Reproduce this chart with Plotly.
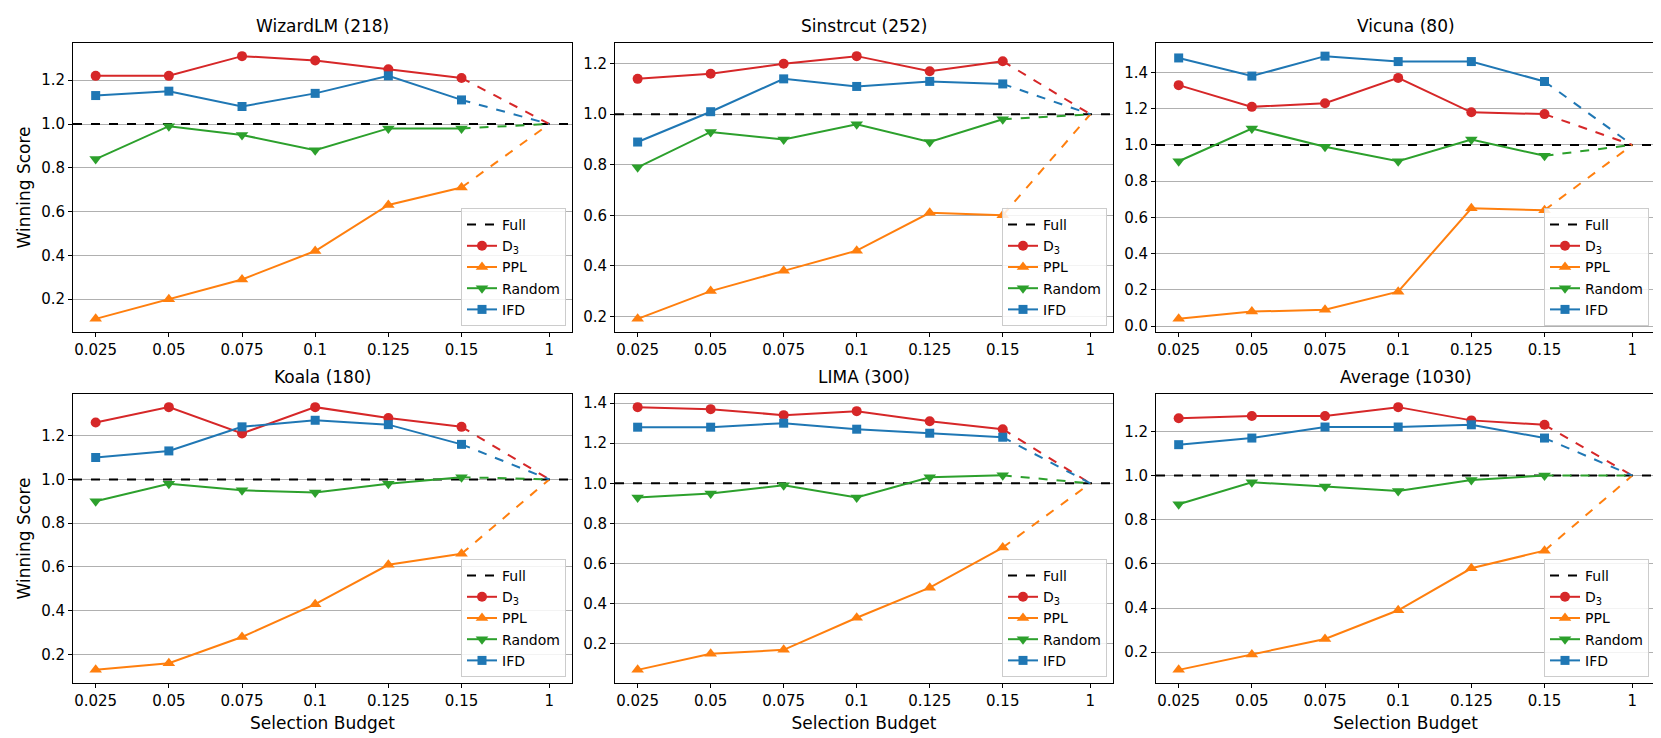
import plotly.graph_objects as go

# ---------------- data ----------------
budget_labels = ["0.025", "0.05", "0.075", "0.1", "0.125", "0.15", "1"]
full_score = 1.0

panel_titles = ["WizardLM (218)", "Sinstrcut (252)", "Vicuna (80)",
                "Koala (180)", "LIMA (300)", "Average (1030)"]

d3_wizardlm = [1.22, 1.22, 1.31, 1.29, 1.25, 1.21]
ppl_wizardlm = [0.11, 0.20, 0.29, 0.42, 0.63, 0.71]
random_wizardlm = [0.84, 0.99, 0.95, 0.88, 0.98, 0.98]
ifd_wizardlm = [1.13, 1.15, 1.08, 1.14, 1.22, 1.11]

d3_sinstruct = [1.14, 1.16, 1.20, 1.23, 1.17, 1.21]
ppl_sinstruct = [0.19, 0.30, 0.38, 0.46, 0.61, 0.60]
random_sinstruct = [0.79, 0.93, 0.90, 0.96, 0.89, 0.98]
ifd_sinstruct = [0.89, 1.01, 1.14, 1.11, 1.13, 1.12]

d3_vicuna = [1.33, 1.21, 1.23, 1.37, 1.18, 1.17]
ppl_vicuna = [0.04, 0.08, 0.09, 0.19, 0.65, 0.64]
random_vicuna = [0.91, 1.09, 0.99, 0.91, 1.03, 0.94]
ifd_vicuna = [1.48, 1.38, 1.49, 1.46, 1.46, 1.35]

d3_koala = [1.26, 1.33, 1.21, 1.33, 1.28, 1.24]
ppl_koala = [0.13, 0.16, 0.28, 0.43, 0.61, 0.66]
random_koala = [0.90, 0.98, 0.95, 0.94, 0.98, 1.01]
ifd_koala = [1.10, 1.13, 1.24, 1.27, 1.25, 1.16]

d3_lima = [1.38, 1.37, 1.34, 1.36, 1.31, 1.27]
ppl_lima = [0.07, 0.15, 0.17, 0.33, 0.48, 0.68]
random_lima = [0.93, 0.95, 0.99, 0.93, 1.03, 1.04]
ifd_lima = [1.28, 1.28, 1.30, 1.27, 1.25, 1.23]

d3_average = [1.26, 1.27, 1.27, 1.31, 1.25, 1.23]
ppl_average = [0.12, 0.19, 0.26, 0.39, 0.58, 0.66]
random_average = [0.87, 0.97, 0.95, 0.93, 0.98, 1.00]
ifd_average = [1.14, 1.17, 1.22, 1.22, 1.23, 1.17]

method_names = ["D<sub>3</sub>", "PPL", "Random", "IFD"]

panels = [
    [d3_wizardlm, ppl_wizardlm, random_wizardlm, ifd_wizardlm],
    [d3_sinstruct, ppl_sinstruct, random_sinstruct, ifd_sinstruct],
    [d3_vicuna, ppl_vicuna, random_vicuna, ifd_vicuna],
    [d3_koala, ppl_koala, random_koala, ifd_koala],
    [d3_lima, ppl_lima, random_lima, ifd_lima],
    [d3_average, ppl_average, random_average, ifd_average],
]

# ---------------- style ----------------
colors = ["#d62728", "#ff7f0e", "#2ca02c", "#1f77b4"]
symbols = ["circle", "triangle-up", "triangle-down", "square"]
msizes = [10, 11, 11, 9]
FONT = "DejaVu Sans"

W, H = 1661, 738
col_px = [(65, 564), (607, 1105), (1148, 1647)]
row_px = [(35, 324), (386, 675)]

# x positions: six equally spaced budgets, then the full set slightly further
xpos = list(range(len(budget_labels) - 1)) + [len(budget_labels) - 1 + 0.2]
xspan = xpos[-1] - xpos[0]
xrange_ = [xpos[0] - 0.05 * xspan, xpos[-1] + 0.05 * xspan]

fig = go.Figure()
annotations = []
layout_axes = {}

for i, series in enumerate(panels):
    r, c = divmod(i, 3)
    n = i + 1
    xa = "x" if n == 1 else f"x{n}"
    ya = "y" if n == 1 else f"y{n}"
    leg = "legend" if n == 1 else f"legend{n}"

    x0, x1 = col_px[c]
    yt, yb = row_px[r]
    xdom = [x0 / W, x1 / W]
    ydom = [1 - yb / H, 1 - yt / H]

    allv = [v for s in series for v in s] + [full_score]
    lo, hi = min(allv), max(allv)
    yr = [lo - 0.05 * (hi - lo), hi + 0.05 * (hi - lo)]

    # Full reference line
    fig.add_trace(go.Scatter(
        x=xrange_, y=[full_score, full_score], mode="lines",
        line=dict(color="black", width=2, dash="dash"),
        name="Full", xaxis=xa, yaxis=ya, legend=leg, showlegend=True,
        cliponaxis=False))

    for k, vals in enumerate(series):
        fig.add_trace(go.Scatter(
            x=xpos[:-1], y=vals, mode="lines+markers",
            line=dict(color=colors[k], width=2),
            marker=dict(symbol=symbols[k], size=msizes[k], color=colors[k]),
            name=method_names[k], xaxis=xa, yaxis=ya, legend=leg,
            showlegend=True))
        fig.add_trace(go.Scatter(
            x=[xpos[-2], xpos[-1]], y=[vals[-1], full_score], mode="lines",
            line=dict(color=colors[k], width=2, dash="dash"),
            xaxis=xa, yaxis=ya, showlegend=False, hoverinfo="skip"))

    axis_common = dict(
        showline=True, linecolor="black", linewidth=1, mirror=True,
        ticks="outside", ticklen=4, tickcolor="black", zeroline=False,
        tickfont=dict(family=FONT, size=15, color="black"), automargin=False)

    xaxis = dict(
        domain=xdom, anchor=ya, range=xrange_, tickmode="array",
        tickvals=xpos, ticktext=budget_labels, showgrid=False,
        **axis_common)
    if r == 1:
        xaxis["title"] = dict(text="Selection Budget",
                              font=dict(family=FONT, size=17, color="black"),
                              standoff=8)
    yaxis = dict(
        domain=ydom, anchor=xa, range=yr, dtick=0.2, tick0=0,
        tickformat=".1f", showgrid=True, gridcolor="#b0b0b0", gridwidth=1,
        **axis_common)
    if c == 0:
        yaxis["title"] = dict(text="Winning Score",
                              font=dict(family=FONT, size=17, color="black"),
                              standoff=6)
    layout_axes["xaxis" if n == 1 else f"xaxis{n}"] = xaxis
    layout_axes["yaxis" if n == 1 else f"yaxis{n}"] = yaxis

    layout_axes[leg] = dict(
        x=(x1 - 6) / W, y=1 - (yb - 6) / H, xanchor="right", yanchor="bottom",
        xref="paper", yref="paper",
        bgcolor="rgba(255,255,255,0.85)", bordercolor="#cccccc", borderwidth=1,
        font=dict(family=FONT, size=14, color="black"),
        tracegroupgap=0, itemwidth=30)

    annotations.append(dict(
        text=panel_titles[i], x=(x0 + x1) / 2 / W, y=1 - (yt - 5) / H,
        xref="paper", yref="paper", xanchor="center", yanchor="bottom",
        showarrow=False, font=dict(family=FONT, size=17, color="black")))

fig.update_layout(
    width=W, height=H, margin=dict(l=0, r=0, t=0, b=0),
    plot_bgcolor="white", paper_bgcolor="white",
    font=dict(family=FONT, size=13, color="black"),
    annotations=annotations, **layout_axes)

fig.write_html("out.html")
